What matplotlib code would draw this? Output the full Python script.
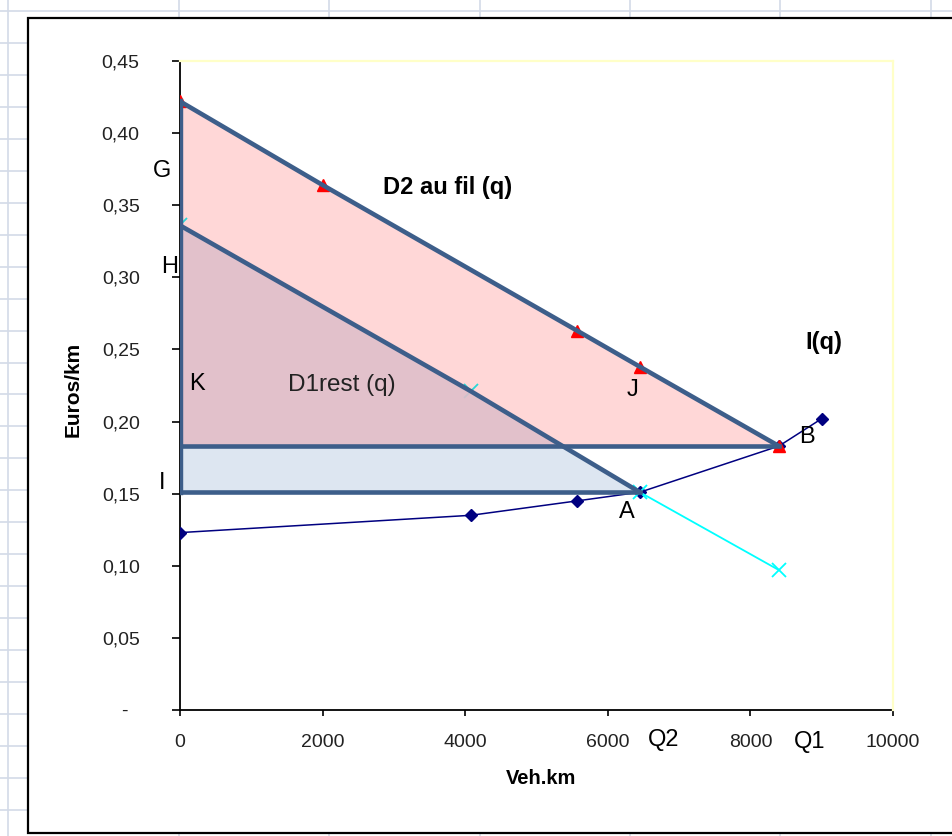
import matplotlib
matplotlib.use("Agg")
import matplotlib.pyplot as plt
from matplotlib.patches import Rectangle

plt.rcParams['font.family'] = ['Liberation Sans', 'DejaVu Sans']

# ---- data ----
iq_x = [0, 4080, 5570, 6450, 8400, 9000]
iq_y = [0.123, 0.135, 0.145, 0.151, 0.183, 0.202]

d1_x = [0, 4080, 6450, 8400]
d1_y = [0.336, 0.221, 0.151, 0.097]

d2_x = [0, 2000, 5570, 6450, 8400]
d2_y = [0.422, 0.364, 0.263, 0.238, 0.183]

x_ticks = [0, 2000, 4000, 6000, 8000, 10000]
y_ticks = [0, 0.05, 0.10, 0.15, 0.20, 0.25, 0.30, 0.35, 0.40, 0.45]
y_tick_labels = ['-  ', '0,05', '0,10', '0,15', '0,20', '0,25', '0,30', '0,35', '0,40', '0,45']

W, H = 953, 836
fig = plt.figure(figsize=(W / 100, H / 100), dpi=100)
fig.patch.set_facecolor('white')

# ---- background spreadsheet grid + chart area ----
bg = fig.add_axes([0, 0, 1, 1])
bg.set_xlim(0, W)
bg.set_ylim(H, 0)
bg.axis('off')
gridc = '#D3DAE8'
for k in range(-1, 27):
    yy = 43 + 31.95 * k
    bg.plot([0, W], [yy, yy], color=gridc, lw=1.2, zorder=1)
for xx in [8, 179, 329, 480, 630, 780, 931]:
    bg.plot([xx, xx], [0, H], color=gridc, lw=1.2, zorder=1)
bg.add_patch(Rectangle((28, 18), 1000, 815, facecolor='white',
                       edgecolor='black', lw=1.6, zorder=2))

# ---- main axes ----
ax = fig.add_axes([180 / W, (H - 710) / H, 713 / W, 649 / H])
ax.set_facecolor('none')
ax.set_xlim(0, 10000)
ax.set_ylim(0, 0.45)

# series
ax.plot(iq_x, iq_y, color='#000080', lw=1.1, marker='D', ms=6,
        mfc='#000080', mec='#000080', zorder=3)
ax.plot(d1_x, d1_y, color='#00FFFF', lw=1.3, marker='x', ms=10, mew=1.3,
        zorder=3)
ax.plot(d2_x, d2_y, color='#FF0000', lw=1.2, marker='^', ms=8,
        mfc='#FF0000', mec='#FF0000', zorder=3)

# shaded surplus areas
ax.fill_between(d1_x[:3], d1_y[:3], iq_y[3], color='#DAE4F0', alpha=0.9,
                lw=0, zorder=4)
ax.fill_between(d2_x, d2_y, d2_y[-1], color='#FF0000', alpha=0.155,
                lw=0, zorder=5)

# thick outline shapes
sc = '#3D5E8A'
lw = 3.3
ax.plot(d2_x, d2_y, color=sc, lw=lw, zorder=6, solid_capstyle='round')
ax.plot(d1_x[:3], d1_y[:3], color=sc, lw=lw, zorder=6, solid_capstyle='round')
ax.plot([0, d2_x[-1]], [d2_y[-1], d2_y[-1]], color=sc, lw=lw, zorder=6)
ax.plot([0, iq_x[3]], [iq_y[3], iq_y[3]], color=sc, lw=lw, zorder=6)
ax.plot([0, 0], [iq_y[3], d2_y[0]], color=sc, lw=lw + 0.6, zorder=6)

# spines / ticks
for s in ['top', 'right']:
    ax.spines[s].set_color('#FFFFC8')
    ax.spines[s].set_linewidth(1.6)
for s in ['left', 'bottom']:
    ax.spines[s].set_color('black')
    ax.spines[s].set_linewidth(1.3)
    ax.spines[s].set_zorder(2)

ax.set_xticks(x_ticks)
ax.set_xticklabels([str(v) for v in x_ticks])
ax.set_yticks(y_ticks)
ax.set_yticklabels(y_tick_labels)
ax.tick_params(axis='y', direction='out', length=6, width=1.2, pad=23,
               labelsize=14, labelcolor='#222222')
ax.tick_params(axis='x', direction='out', length=4, width=1.2, pad=13,
               labelsize=14, labelcolor='#222222')

# point / area labels
lab = dict(fontsize=17, color='black', ha='center', va='center', zorder=8)
ax.text(-252, 0.3737, 'G', **lab)
ax.text(-140, 0.307, 'H', **lab)
ax.text(238, 0.226, 'K', **lab)
ax.text(-252, 0.1577, 'I', **lab)
ax.text(6353, 0.2219, 'J', **lab)
ax.text(6269, 0.1375, 'A', **lab)
ax.text(8794, 0.189, 'B', **lab)
ax.text(6788, -0.0208, 'Q2', clip_on=False, **lab)
ax.text(8836, -0.0222, 'Q1', clip_on=False, **lab)
ax.text(2272, 0.2256, 'D1rest (q)', fontsize=17.5, color='#222222',
        ha='center', va='center', zorder=8)
ax.text(3752, 0.362, 'D2 au fil (q)', fontsize=17, fontweight='bold',
        color='black', ha='center', va='center', zorder=8)
ax.text(9032, 0.2545, 'I(q)', fontsize=17, fontweight='bold',
        color='black', ha='center', va='center', zorder=8)

# axis titles
fig.text(541 / W, 1 - 779 / H, 'Veh.km', fontsize=14.5, fontweight='bold',
         ha='center', va='center')
fig.text(73 / W, 1 - 389 / H, 'Euros/km', fontsize=15, fontweight='bold',
         ha='center', va='center', rotation=90)

fig.savefig('out.png', dpi=100)
